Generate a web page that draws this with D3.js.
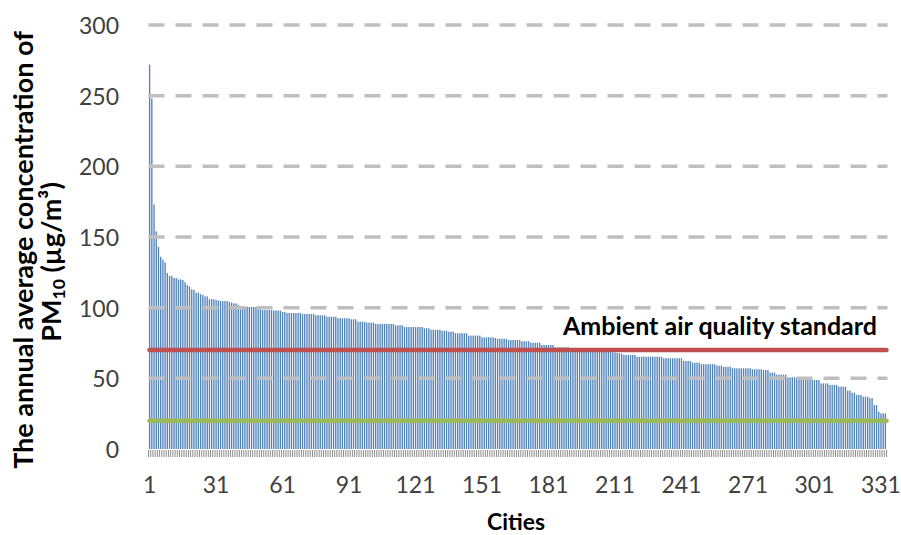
<!DOCTYPE html>
<html><head><meta charset="utf-8">
<script src="https://cdn.jsdelivr.net/npm/d3@7"></script>
<style>body{margin:0;background:#fff} text{font-family:Lato,"Open Sans",sans-serif}</style>
</head><body><svg id="c" width="901" height="535"></svg>
<script>
// PM10 annual average concentration per city (µg/m³), sorted descending
const values = [
272,248,173,154,143,136,134,132,124.5,122.5,
122.5,121,121,120,120,119.6,118,116,115,113,
112.5,110.6,110.6,109.5,109,108,108,106,106,106,
105.5,105,104.7,104.7,104.7,104.7,104,103.6,103,103,
102,101,100.7,100.7,100.7,100.5,100.5,100.5,100.5,99,
99,98.4,98.4,98.4,98.4,98.4,98,98,98,98,
97,97,96.2,96.2,96.2,96.2,96.2,96.2,96.2,95.5,
95.5,95.5,95.5,95.5,95.5,94.6,94.6,94.6,94.6,94.6,
93.6,93.6,93.6,93.6,93.6,92.5,92.5,92.5,92.5,92.5,
92.5,91.8,91.8,91.8,90.1,90.1,90.1,90.1,89.4,89.4,
89.4,89.4,88.5,88.5,88.5,88.5,88.5,88.5,88.5,88.5,
88.5,87.5,87.5,87.5,87.5,86.3,86.3,86.3,86.3,86.3,
86.3,86.3,86.3,86.3,85.4,85.4,85.4,84.4,84.4,84.4,
84.4,84.4,83.7,83.7,83.7,83,83,83,81.9,81.9,
81.9,81.9,81.9,81.9,80.2,80.2,80.2,80.2,80.2,80.2,
79,79,79,79,79,79,78.5,78,78,78,
78,78,77.1,77.1,77.1,77.1,77.1,77.1,76.2,76.2,
76.2,76.2,75.2,75.2,75.2,75.2,75.2,73.6,73.6,73.6,
73.6,73.6,73.6,72,72,72,72,72,72,72,
71.3,71.2,71,70.9,70.8,70.6,70.5,70.4,70.2,70.1,
70,69.8,69.6,69.5,69.3,69.2,69,68.8,68.6,68.4,
68.2,68,67.8,67.5,66.5,66.5,66.5,66.5,66.5,66.5,
65.3,65.3,65.3,65.3,65.3,65.3,65.3,65.3,65.3,65.3,
65.3,65.3,64.2,64.2,64.2,64.2,64.2,64.2,64.2,64.2,
64.2,62.3,62.3,62.3,62.3,61.1,61.1,61.1,61.1,60,
60,60,60,60,60,60,59,59,59,58.2,
58.2,58.2,58.2,57.1,57.1,57.1,57.1,57.1,57.1,57.1,
57.1,57.1,56.4,56.4,56.4,56.4,56.4,55.9,55.9,55.9,
54,54,54,52.6,52.6,52.6,52.6,52.6,50.7,50.7,
50.7,50.7,50.7,50.7,50.7,50,50,50,50,48.8,
48.8,48.8,48.8,46.4,46.4,46.4,46.4,45.3,45.3,45.3,
45.3,44.1,44.1,44.1,44.1,41.3,41.3,39.8,39.8,38.2,
38.2,38.2,37,37,37,36,35.9,31.1,31.1,26.4,
25.2,25.2,25.2
];
const cities = values.map((v, i) => i + 1);
const yTicks = [0, 50, 100, 150, 200, 250, 300];
const xTickLabels = [1, 31, 61, 91, 121, 151, 181, 211, 241, 271, 301, 331];
const standardValue = 70;
const guidelineValue = 20;
const standardLabel = "Ambient air quality standard";
const xTitle = "Cities";
const yTitle1 = "The annual average concentration of";

const svg = d3.select("#c");
const L = 148.5, R = 886.5, T = 25, B = 449;
const x = d3.scaleBand().domain(cities).range([L, R]).paddingInner(0.4).paddingOuter(0.2);
const y = d3.scaleLinear().domain([0, 300]).range([B, T]);

// bars
svg.append("g").selectAll("rect").data(values).join("rect")
  .attr("x", (d, i) => x(cities[i]))
  .attr("width", x.bandwidth())
  .attr("y", d => y(d))
  .attr("height", d => y(0) - y(d))
  .attr("fill", "#4F81BD");

// gridlines
svg.append("g").selectAll("line").data(yTicks.filter(t => t > 0)).join("line")
  .attr("x1", L).attr("x2", R + 1)
  .attr("y1", d => y(d)).attr("y2", d => y(d))
  .attr("stroke", "#BFBFBF").attr("stroke-width", 3.5)
  .attr("stroke-dasharray", "16,11");

// reference lines
const refs = [{v: standardValue, c: "#C0504D"}, {v: guidelineValue, c: "#9BBB59"}];
svg.append("g").selectAll("line").data(refs).join("line")
  .attr("x1", L + 1).attr("x2", R)
  .attr("y1", d => y(d.v)).attr("y2", d => y(d.v))
  .attr("stroke", d => d.c).attr("stroke-width", 4.5)
  .attr("stroke-linecap", "round");

// category tick marks
const step = x.step();
const bounds = cities.map(c => x(c) - x.paddingInner() * step / 2).concat([R]);
svg.append("g").selectAll("line").data(bounds).join("line")
  .attr("x1", d => d).attr("x2", d => d)
  .attr("y1", B + 1).attr("y2", B + 8)
  .attr("stroke", "#8C8C8C").attr("stroke-width", 1);

// y tick labels
svg.append("g").selectAll("text").data(yTicks).join("text")
  .attr("x", 119).attr("y", d => y(d))
  .attr("text-anchor", "end").attr("dominant-baseline", "central")
  .attr("font-size", 23).attr("fill", "#404040")
  .text(d => d);

// x tick labels
svg.append("g").selectAll("text").data(xTickLabels).join("text")
  .attr("x", d => x(d) + x.bandwidth() / 2).attr("y", 493)
  .attr("text-anchor", "middle")
  .attr("font-size", 23).attr("fill", "#404040")
  .text(d => d);

function fit(sel, w) {
  const cur = sel.node().getComputedTextLength();
  const fs = parseFloat(sel.attr("font-size"));
  sel.attr("font-size", fs * w / cur);
}

// standard label
const st = svg.append("text").attr("x", 563).attr("y", 335)
  .attr("font-size", 22).attr("font-weight", "bold").attr("fill", "#000")
  .text(standardLabel);
fit(st, 314);

// x title
const xt = svg.append("text").attr("x", 516).attr("y", 530)
  .attr("text-anchor", "middle").attr("font-size", 21).attr("font-weight", "bold")
  .text(xTitle);
fit(xt, 58);

// y title
const yt1 = svg.append("text").attr("transform", "translate(22,250) rotate(-90)")
  .attr("text-anchor", "middle").attr("dominant-baseline", "central")
  .attr("font-size", 22).attr("font-weight", "bold").text(yTitle1);
fit(yt1, 438);
const fs1 = parseFloat(yt1.attr("font-size"));

const yt2 = svg.append("text").attr("transform", "translate(50,262) rotate(-90)")
  .attr("text-anchor", "middle").attr("dominant-baseline", "central")
  .attr("font-size", fs1).attr("font-weight", "bold");
yt2.append("tspan").text("PM");
yt2.append("tspan").attr("font-size", fs1 * 0.65).attr("dy", fs1 * 0.28).text("10");
yt2.append("tspan").attr("dy", -fs1 * 0.28).text(" (µg/m³)");
</script>
</body></html>
